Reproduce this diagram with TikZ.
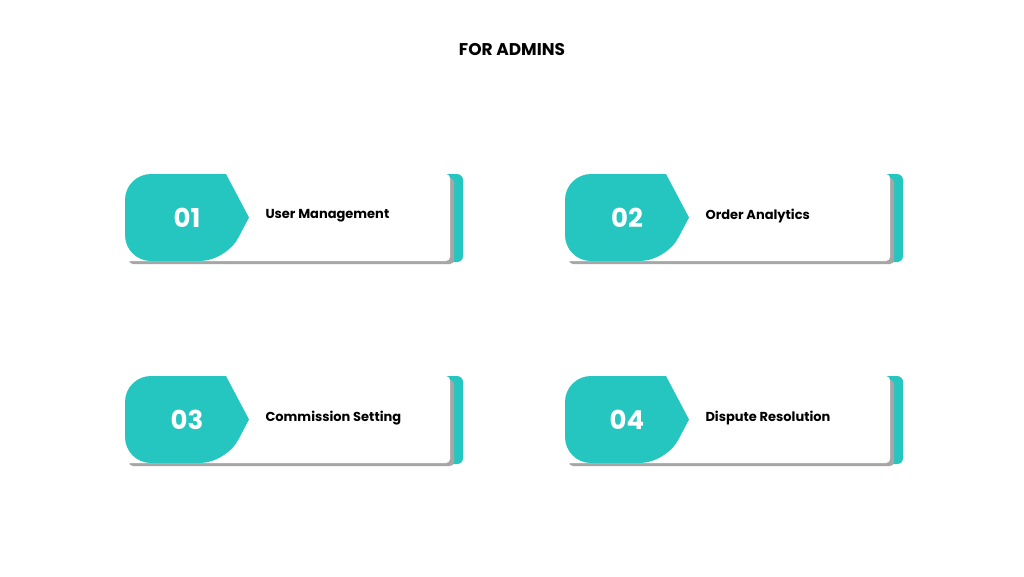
\documentclass[tikz,border=0pt]{standalone}
\usepackage{fontspec}
\setmainfont{Poppins}
\definecolor{teal1}{HTML}{26C6C0}
\tikzset{x=1pt,y=-1pt,
 lbl/.style={anchor=west,font=\fontsize{13}{15}\selectfont\bfseries,text=black},
 num/.style={font=\fontsize{26}{30}\selectfont\bfseries,text=white}}
\newcommand{\card}[4]{%
 \begin{scope}[shift={(#1,#2)}]
  \fill[teal1,rounded corners=6pt] (200,0) rectangle (338,88);
  \fill[black!35,rounded corners=4pt] (4,4) rectangle (329,90);
  \fill[white,rounded corners=4pt] (0,0) rectangle (325,87);
  \fill[teal1,rounded corners=26pt] (101,0) -- (0,0) -- (0,87) -- (101,87) [sharp corners] -- (124,43.5) -- cycle;
  \node[num] (n#3) at (62,43.5) {#3};
  \node[lbl] (t#3) at (137,42) {#4};
 \end{scope}}
\begin{document}
\begin{tikzpicture}
\useasboundingbox[fill=white] (0,0) rectangle (1024,576);
\node[font=\fontsize{17}{20}\selectfont\bfseries] (title) at (512,50) {FOR ADMINS};
\card{125}{174}{01}{User Management}
\card{565}{174}{02}{Order Analytics}
\card{125}{376}{03}{Commission Setting}
\card{565}{376}{04}{Dispute Resolution}
\end{tikzpicture}
\end{document}
